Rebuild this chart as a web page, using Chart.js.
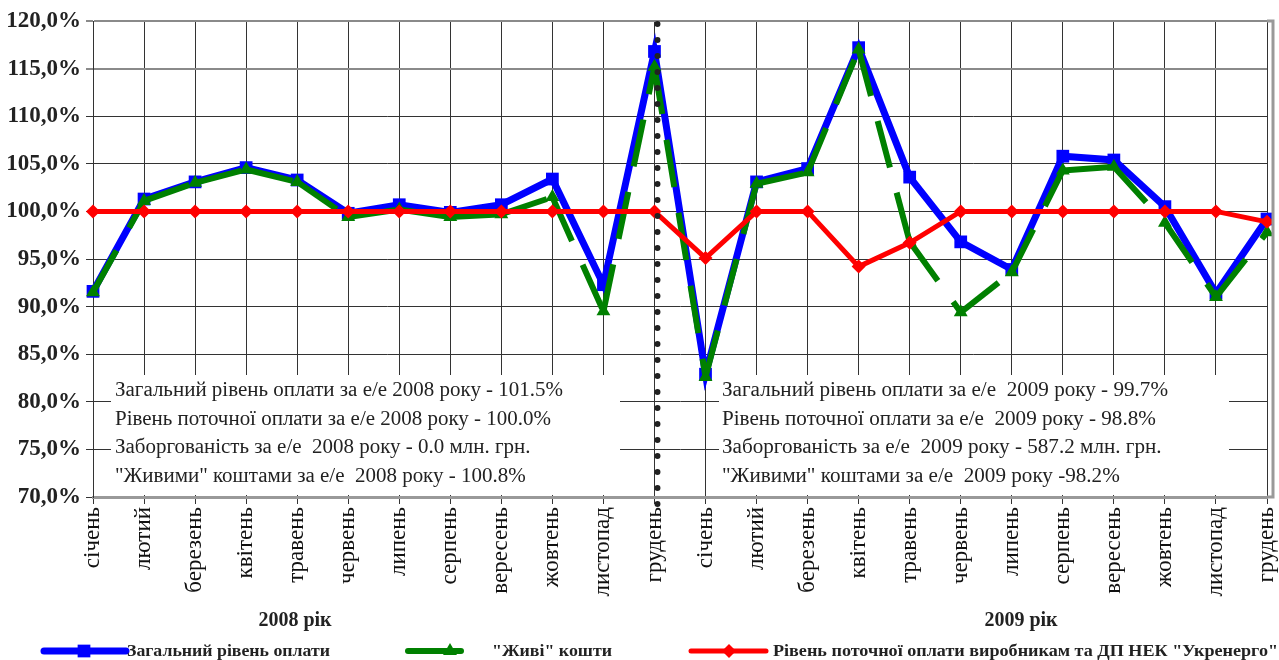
<!DOCTYPE html>
<html>
<head>
<meta charset="utf-8">
<script src="https://cdn.jsdelivr.net/npm/chart.js@4.4.1/dist/chart.umd.min.js"></script>
<style>
  body { margin: 0; background: #fff; }
  #wrap { width: 1279px; height: 660px; }
</style>
</head>
<body>
<div id="wrap"><canvas id="grafik" width="1279" height="660"></canvas></div>
<script>
// місяці, два роки поспіль
const misyatsi = ['січень', 'лютий', 'березень', 'квітень', 'травень', 'червень',
  'липень', 'серпень', 'вересень', 'жовтень', 'листопад', 'грудень'];
const kategorii = misyatsi.concat(misyatsi);

// значення, %
const zagalnyi = [91.6, 101.3, 103.1, 104.6, 103.3, 99.8, 100.7, 99.9, 100.7, 103.4, 92.3, 116.8,
  82.9, 103.1, 104.5, 117.2, 103.6, 96.8, 93.9, 105.8, 105.4, 100.5, 91.4, 99.2];
const zhyvi = [91.5, 101.1, 103.0, 104.4, 103.1, 99.4, 100.2, 99.4, 99.7, 101.5, 89.5, 115.2,
  82.6, 102.9, 104.1, 117.0, 96.8, 89.4, 93.6, 104.3, 104.7, 98.8, 91.0, 97.8];
const potochna = [100, 100, 100, 100, 100, 100, 100, 100, 100, 100, 100, 100,
  95.1, 100, 100, 94.2, 96.7, 100, 100, 100, 100, 100, 100, 98.9];

const nazvySerii = ['Загальний рівень оплати', '"Живі" кошти',
  'Рівень поточної оплати виробникам та ДП НЕК "Укренерго"'];
const rokyPidpysy = ['2008 рік', '2009 рік'];
const prymitky2008 = [
  'Загальний рівень оплати за е/е 2008 року - 101.5%',
  'Рівень поточної оплати за е/е 2008 року - 100.0%',
  'Заборгованість за е/е  2008 року - 0.0 млн. грн.',
  '"Живими" коштами за е/е  2008 року - 100.8%'
];
const prymitky2009 = [
  'Загальний рівень оплати за е/е  2009 року - 99.7%',
  'Рівень поточної оплати за е/е  2009 року - 98.8%',
  'Заборгованість за е/е  2009 року - 587.2 млн. грн.',
  '"Живими" коштами за е/е  2009 року -98.2%'
];

const SERIF = '"Liberation Serif", "DejaVu Serif", serif';

function fitText(ctx, text, x, y, width) {
  let w = ctx.measureText(text).width;
  ctx.save();
  ctx.translate(x, y);
  ctx.scale(width / w, 1);
  ctx.fillText(text, 0, 0);
  ctx.restore();
}

const dopPlugin = {
  id: 'dop',
  beforeDatasetsDraw(chart) {
    const ctx = chart.ctx;
    const boxes = [
      { x0: 111, x1: 620, tx: 115, tw: 448, lines: prymitky2008 },
      { x0: 719, x1: 1229, tx: 722, tw: 446, lines: prymitky2009 }
    ];
    ctx.save();
    boxes.forEach(b => {
      ctx.fillStyle = '#fff';
      ctx.fillRect(b.x0, 375, b.x1 - b.x0, 120);
      ctx.fillStyle = '#222';
      ctx.font = '20px ' + SERIF;
      ctx.textBaseline = 'middle';
      const k = b.tw / ctx.measureText(b.lines[0]).width;
      b.lines.forEach((t, i) => {
        fitText(ctx, t, b.tx, 391 + i * 28.5, ctx.measureText(t).width * k);
      });
    });
    ctx.restore();
  },
  afterDatasetsDraw(chart) {
    const ctx = chart.ctx, a = chart.chartArea;
    const xs = chart.scales.x.getPixelForValue(11) + 3;
    ctx.save();
    ctx.strokeStyle = '#222';
    ctx.lineWidth = 6;
    ctx.lineCap = 'round';
    ctx.setLineDash([0, 16]);
    ctx.beginPath();
    ctx.moveTo(xs, a.top + 3);
    ctx.lineTo(xs, a.bottom + 20);
    ctx.stroke();
    ctx.restore();
  },
  afterDraw(chart) {
    const ctx = chart.ctx, a = chart.chartArea;
    ctx.save();
    // рамка праворуч
    ctx.strokeStyle = '#999';
    ctx.lineWidth = 3;
    ctx.beginPath();
    ctx.moveTo(a.right, a.top);
    ctx.lineTo(a.right + 6, a.top);
    ctx.lineTo(a.right + 6, a.bottom);
    ctx.lineTo(a.right, a.bottom);
    ctx.stroke();

    // підписи років
    ctx.fillStyle = '#222';
    ctx.font = 'bold 20px ' + SERIF;
    ctx.textAlign = 'center';
    ctx.textBaseline = 'middle';
    ctx.fillText(rokyPidpysy[0], 295, 621);
    ctx.fillText(rokyPidpysy[1], 1021, 621);

    // легенда
    const items = [
      { x0: 44, x1: 126, mx: 84, tx: 127, tw: 203 },
      { x0: 408, x1: 461, mx: 450, tx: 492, tw: 120 },
      { x0: 691, x1: 766, mx: 729, tx: 773, tw: 505 }
    ];
    const ly = 651;
    items.forEach((it, i) => {
      const ds = chart.data.datasets[i];
      ctx.strokeStyle = ds.borderColor;
      ctx.lineWidth = ds.borderWidth;
      ctx.lineCap = 'round';
      ctx.setLineDash([]);
      ctx.beginPath();
      ctx.moveTo(it.x0, ly);
      ctx.lineTo(it.x1, ly);
      ctx.stroke();
      ctx.fillStyle = ds.backgroundColor;
      Chart.helpers.drawPoint(ctx, {
        pointStyle: ds.pointStyle, radius: ds.pointRadius, rotation: 0, borderWidth: 0
      }, it.mx, ly);
      ctx.fillStyle = '#222';
      ctx.font = 'bold 17px ' + SERIF;
      ctx.textAlign = 'left';
      ctx.textBaseline = 'middle';
      fitText(ctx, nazvySerii[i], it.tx, ly + 1, it.tw);
    });
    ctx.restore();
  }
};

new Chart(document.getElementById('grafik'), {
  type: 'line',
  data: {
    labels: kategorii,
    datasets: [
      {
        label: nazvySerii[0], data: zagalnyi,
        borderColor: '#0000ff', backgroundColor: '#0000ff', borderWidth: 7,
        pointStyle: 'rect', pointRadius: 9, pointBorderWidth: 0, order: 3
      },
      {
        label: nazvySerii[1], data: zhyvi,
        borderColor: '#008000', backgroundColor: '#008000', borderWidth: 6,
        borderDash: [48, 26],
        // штрих починається заново на кожному відрізку
        segment: { borderDashOffset: c => (c.p0DataIndex % 2) * 0.001 },
        pointStyle: 'triangle', pointRadius: 8, pointBorderWidth: 0, order: 2
      },
      {
        label: nazvySerii[2], data: potochna,
        borderColor: '#ff0000', backgroundColor: '#ff0000', borderWidth: 5,
        pointStyle: 'rectRot', pointRadius: 7, pointBorderWidth: 0, order: 1
      }
    ]
  },
  options: {
    responsive: false,
    animation: false,
    devicePixelRatio: 1,
    layout: { padding: { top: 21, right: 12, left: 0, bottom: 0 } },
    elements: { line: { tension: 0 } },
    plugins: { legend: { display: false }, tooltip: { enabled: false } },
    scales: {
      x: {
        offset: false,
        grid: { color: '#333', lineWidth: 1, tickLength: 7 },
        border: { color: '#999', width: 3 },
        ticks: {
          autoSkip: false, minRotation: 90, maxRotation: 90, padding: 3,
          color: '#111', font: { family: SERIF, size: 23 }
        },
        afterFit(s) { s.height = 163; s.paddingLeft = 0; s.paddingRight = 0; }
      },
      y: {
        min: 70, max: 120,
        grid: {
          color: c => (c.tick && c.tick.value >= 115) ? '#8a8a8a' : '#333',
          lineWidth: c => (c.tick && c.tick.value >= 115) ? 2 : 1,
          tickLength: 7
        },
        border: { color: '#333', width: 1 },
        ticks: {
          stepSize: 5, padding: 5, color: '#222',
          font: { family: SERIF, size: 23, weight: 'bold' },
          callback: v => v.toFixed(1).replace('.', ',') + '%'
        },
        afterFit(s) { s.width = 93; }
      }
    }
  },
  plugins: [dopPlugin]
});
</script>
</body>
</html>
